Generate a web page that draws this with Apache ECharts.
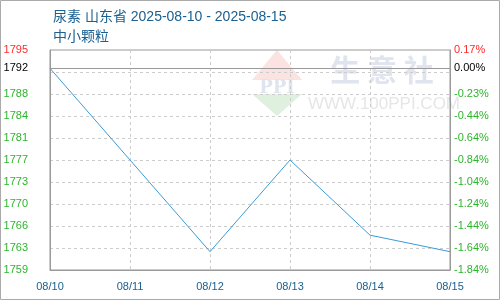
<!DOCTYPE html>
<html>
<head>
<meta charset="utf-8">
<style>html,body{margin:0;padding:0;background:#fff}#c{width:500px;height:300px}</style>
<script src="https://cdn.jsdelivr.net/npm/echarts@6/dist/echarts.min.js"></script>
</head>
<body>
<div id="c"></div>
<script>
const titleText = '尿素 山东省 2025-08-10 - 2025-08-15';
const subtitleText = '中小颗粒';
const categories = ['08/10', '08/11', '08/12', '08/13', '08/14', '08/15'];
const prices = [1792, 1777, 1762, 1777, 1764.7, 1762];
const baseline = 1792;
const axisMin = 1759;
const axisMax = 1795;
const axisStep = 3.6;
const hiddenTick = 1791.4;

const chart = echarts.init(document.getElementById('c'));
const font = "'Liberation Sans','Noto Sans CJK SC',sans-serif";
function isHidden(v){ return Math.abs(+v - hiddenTick) < 0.01; }
function tickColor(v){ return (+v >= axisMax - 0.01) ? '#ff2a2a' : '#2db52d'; }

chart.setOption({
  animation: false,
  textStyle: { fontFamily: font },
  title: [
    { text: titleText, left: 48, top: 5, textStyle: { color: '#1a6090', fontSize: 14, fontWeight: 'normal', fontFamily: font } },
    { text: subtitleText, left: 48, top: 25, textStyle: { color: '#1a6090', fontSize: 14, fontWeight: 'normal', fontFamily: font } }
  ],
  graphic: [
    { type: 'rect', shape: { x: 0.5, y: 0.5, width: 499, height: 299 }, style: { fill: 'none', stroke: '#aaa', lineWidth: 1 }, z: -20, silent: true },
    { type: 'polygon', shape: { points: [[277, 50], [302, 80], [252, 80]] }, style: { fill: '#fbe3e1' }, z: -10, silent: true },
    { type: 'polygon', shape: { points: [[252, 94], [302, 94], [277, 116]] }, style: { fill: '#dff0df' }, z: -10, silent: true },
    { type: 'text', style: { text: 'PPI', x: 277, y: 88, align: 'center', verticalAlign: 'middle', fill: '#dfe4ef', font: 'bold 18px "DejaVu Serif", serif' }, z: -10, silent: true },
    { type: 'text', style: { text: '生 意 社', x: 382, y: 70, align: 'center', verticalAlign: 'middle', fill: '#dfe4ee', font: 'bold 30px "Noto Sans CJK SC", sans-serif' }, z: -10, silent: true },
    { type: 'text', style: { text: 'WWW.100PPI.COM', x: 384, y: 104, align: 'center', verticalAlign: 'middle', fill: '#e6e6e6', font: '17px "Liberation Sans", sans-serif' }, z: -10, silent: true }
  ],
  grid: { left: 50, right: 50, top: 50, bottom: 30, show: true, borderColor: '#999', borderWidth: 1, containLabel: false },
  xAxis: {
    type: 'category',
    data: categories,
    boundaryGap: false,
    axisLine: { show: true, lineStyle: { color: '#999' } },
    axisTick: { show: false },
    axisLabel: { color: '#1a6090', fontSize: 11, margin: 11, fontFamily: font },
    splitLine: { show: true, lineStyle: { color: '#ccc', type: [3, 3] } }
  },
  yAxis: [
    {
      type: 'value', min: axisMin, max: axisMax, interval: axisStep, position: 'left',
      axisLine: { show: true, lineStyle: { color: '#999' } },
      axisTick: { show: false },
      axisLabel: {
        fontSize: 11, margin: 22, fontFamily: font,
        formatter: v => isHidden(v) ? '' : String(Math.round(v)),
        color: v => tickColor(v)
      },
      splitLine: { show: true, lineStyle: { color: '#ccc', type: [3, 3] } }
    },
    {
      type: 'value', min: axisMin, max: axisMax, interval: axisStep, position: 'right',
      axisLine: { show: true, lineStyle: { color: '#999' } },
      axisTick: { show: false },
      axisLabel: {
        fontSize: 11, margin: 4, fontFamily: font,
        formatter: v => isHidden(v) ? '' : ((v - baseline) / baseline * 100).toFixed(2) + '%',
        color: v => tickColor(v)
      },
      splitLine: { show: false }
    }
  ],
  series: [{
    type: 'line',
    data: prices,
    symbol: 'none',
    lineStyle: { color: '#3a9ad9', width: 1 },
    itemStyle: { color: '#3a9ad9' },
    markLine: {
      silent: true,
      symbol: 'none',
      animation: false,
      lineStyle: { color: '#999', type: 'solid', width: 1 },
      data: [
        { yAxis: baseline, label: { position: 'start', distance: 22, formatter: String(baseline), color: '#000', fontSize: 11, fontFamily: font } },
        { yAxis: baseline, label: { position: 'end', distance: 4, formatter: '0.00%', color: '#000', fontSize: 11, fontFamily: font } }
      ]
    }
  }]
});
</script>
</body>
</html>
